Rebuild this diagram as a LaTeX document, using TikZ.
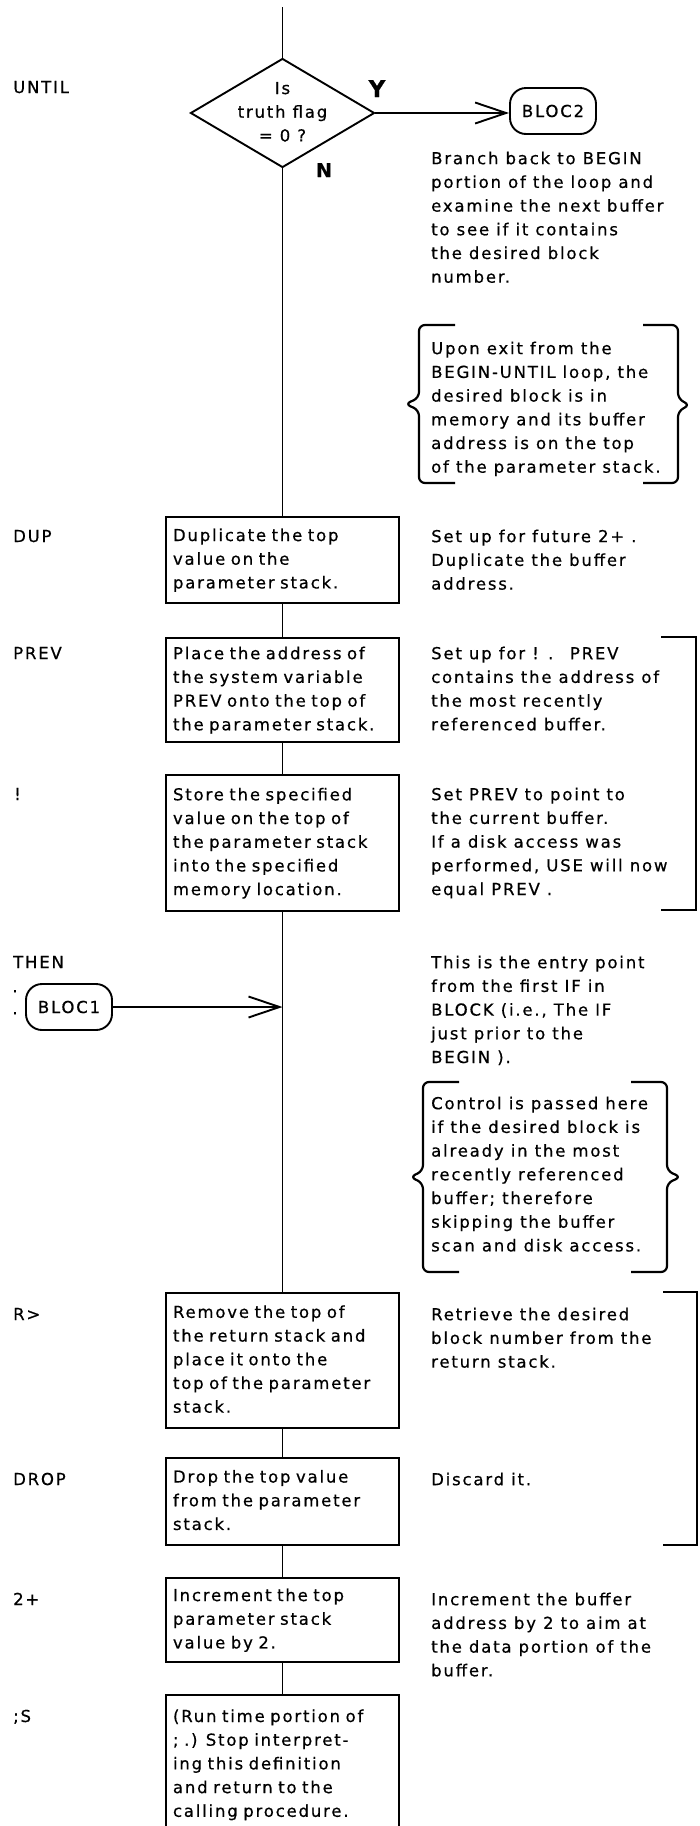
\documentclass[tikz,border=0pt]{standalone}
\usepackage{fontspec}
\setmainfont{DejaVu Sans}[LetterSpace=11, FakeBold=0.6]
\usetikzlibrary{shapes.geometric, arrows.meta}
\newcommand\myfont{\fontsize{16.5}{23.7}\selectfont}
\begin{document}
\begin{tikzpicture}[x=1pt, y=-1pt,
  every node/.style={font=\myfont},
  line/.style={line width=1.9pt},
  procbox/.style={draw, line width=1.9pt, text width=219pt, inner xsep=7pt, inner ysep=0pt, align=left, minimum width=233pt},
  note/.style={anchor=north west, inner sep=0pt, align=left, yshift=16.6pt},
  lbl/.style={anchor=base west, inner sep=0pt},
  pill/.style={draw, line width=1.9pt, rounded corners=16pt, minimum width=86pt, minimum height=46pt, inner sep=0pt},
  barb/.style={-{Straight Barb[length=31pt,width=21pt]}},
  brace/.style={line width=2.2pt, rounded corners=6pt},
  yn/.style={font=\fontsize{19}{19}\selectfont\bfseries, anchor=base, inner sep=0pt}
]
\useasboundingbox (0,0) rectangle (699,1826);

% ---- decision ----
\coordinate (t0) at (282.5,7);
\node[draw, diamond, line width=1.9pt, minimum width=184pt, minimum height=109pt, inner sep=0pt] (d) at (282.5,113) {};
\node[align=center, inner sep=0pt] (dq) at (d.center) {\strut Is\\\strut truth flag\\\strut = 0 ?};
\node[lbl] (luntil) at (13,93) {UNTIL};
\node[yn, font=\fontsize{23}{23}\selectfont\bfseries] (ly) at (377,97) {Y};
\node[yn] (ln) at (324,177) {N};
\node[pill] (bloc2) at (553,111) {BLOC2};
\draw[line] (t0) -- (d.north);
\draw[line, barb] (d.east) -- (d.east -| bloc2.west);

\node[note] (n1) at (431,164) {\strut Branch back to BEGIN\\\strut portion of the loop and\\\strut examine the next buffer\\\strut to see if it contains\\\strut the desired block\\\strut number.};

% brace 1
\draw[brace] (455,325) -- (419,325) -- (419,398) -- (405,404) -- (419,410) -- (419,483) -- (455,483);
\draw[brace] (643,325) -- (678,325) -- (678,399) -- (690,405) -- (678,411) -- (678,483) -- (643,483);
\node[note] (n2) at (431,354) {\strut Upon exit from the\\\strut BEGIN-UNTIL loop, the\\\strut desired block is in\\\strut memory and its buffer\\\strut address is on the top\\\strut of the parameter stack.};

% ---- DUP ----
\node[lbl] (ldup) at (13,542) {DUP};
\node[procbox, minimum height=86pt] (dup) at (282.5,560) {\strut Duplicate the top\\\strut value on the\\\strut parameter stack.};
\node[note] (n3) at (431,542) {\strut Set up for future 2+ .\\\strut Duplicate the buffer\\\strut address.};

% ---- PREV ----
\node[lbl] (lprev) at (13,659) {PREV};
\node[procbox, minimum height=104pt] (prev) at (282.5,690) {\strut Place the address of\\\strut the system variable\\\strut PREV onto the top of\\\strut the parameter stack.};
\node[note] (n4) at (431,659) {\strut Set up for ! . \ PREV\\\strut contains the address of\\\strut the most recently\\\strut referenced buffer.};

% ---- ! ----
\node[lbl] (lstore) at (14,800) {!};
\node[procbox, minimum height=136pt] (store) at (282.5,843) {\strut Store the specified\\\strut value on the top of\\\strut the parameter stack\\\strut into the specified\\\strut memory location.};
\node[note] (n5) at (431,800) {\strut Set PREV to point to\\\strut the current buffer.\\\strut If a disk access was\\\strut performed, USE will now\\\strut equal PREV .};

\draw[line] (661,637) -- (696,637) -- (696,910) -- (661,910);

% ---- THEN ----
\node[lbl] (lthen) at (13,968) {THEN};
\coordinate (j1) at (282.5,1007);
\node[pill] (bloc1) at (69,1007) {BLOC1};
\node[align=center, inner sep=0pt, anchor=north, font=\fontsize{16.5}{22}\selectfont, yshift=15.4pt] (colon) at (15,992) {\strut.\\\strut.};
\draw[line, barb] (bloc1.east) -- (j1);
\node[note] (n6) at (431,968) {\strut This is the entry point\\\strut from the first IF in\\\strut BLOCK (i.e., The IF\\\strut just prior to the\\\strut BEGIN ).};

% brace 2
\draw[brace] (459,1082) -- (423,1082) -- (423,1171) -- (410,1177) -- (423,1183) -- (423,1272) -- (459,1272);
\draw[brace] (631,1082) -- (667,1082) -- (667,1171) -- (681,1177) -- (667,1183) -- (667,1272) -- (631,1272);
\node[note] (n7) at (431,1109) {\strut Control is passed here\\\strut if the desired block is\\\strut already in the most\\\strut recently referenced\\\strut buffer; therefore\\\strut skipping the buffer\\\strut scan and disk access.};

% ---- R> ----
\node[lbl] (lrfrom) at (13,1320) {R>};
\node[procbox, minimum height=135pt] (rfrom) at (282.5,1360.5) {\strut Remove the top of\\\strut the return stack and\\\strut place it onto the\\\strut top of the parameter\\\strut stack.};
\node[note] (n8) at (431,1320) {\strut Retrieve the desired\\\strut block number from the\\\strut return stack.};

% ---- DROP ----
\node[lbl] (ldrop) at (13,1485) {DROP};
\node[procbox, minimum height=87pt] (drop) at (282.5,1501.5) {\strut Drop the top value\\\strut from the parameter\\\strut stack.};
\node[note] (n9) at (431,1485) {\strut Discard it.};

\draw[line] (663,1292) -- (697,1292) -- (697,1545) -- (663,1545);

% ---- 2+ ----
\node[lbl] (ltwop) at (13,1605) {2+};
\node[procbox, minimum height=84pt] (twop) at (282.5,1620) {\strut Increment the top\\\strut parameter stack\\\strut value by 2.};
\node[note] (n10) at (431,1605) {\strut Increment the buffer\\\strut address by 2 to aim at\\\strut the data portion of the\\\strut buffer.};

% ---- ;S ----
\node[lbl] (lsemis) at (13,1722) {;S};
\node[procbox, minimum height=139.3pt] (semis) at (282.5,1764.65) {\strut (Run time portion of\\\strut ; .) Stop interpret-\\\strut ing this definition\\\strut and return to the\\\strut calling procedure.};

% ---- main flow ----
\draw[line] (d.south) -- (dup.north);
\draw[line] (dup.south) -- (prev.north);
\draw[line] (prev.south) -- (store.north);
\draw[line] (store.south) -- (rfrom.north);
\draw[line] (rfrom.south) -- (drop.north);
\draw[line] (drop.south) -- (twop.north);
\draw[line] (twop.south) -- (semis.north);
\end{tikzpicture}
\end{document}
